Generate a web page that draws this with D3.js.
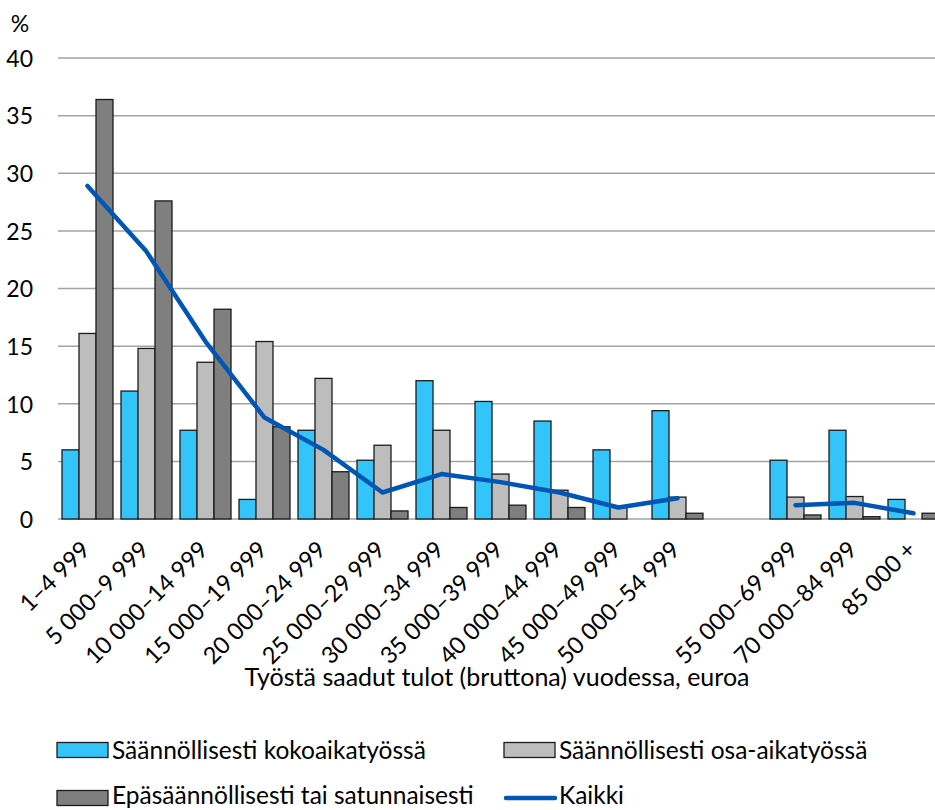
<!DOCTYPE html>
<html>
<head>
<meta charset="utf-8">
<script src="https://cdn.jsdelivr.net/npm/d3@7"></script>
<style>
  html, body { margin: 0; padding: 0; background: #fff; }
  svg { display: block; font-family: Lato, "Open Sans", sans-serif; }
</style>
</head>
<body>
<svg id="chart" width="935" height="810"></svg>
<script>
const categories = ["1–4 999", "5 000–9 999", "10 000–14 999", "15 000–19 999", "20 000–24 999",
  "25 000–29 999", "30 000–34 999", "35 000–39 999", "40 000–44 999", "45 000–49 999",
  "50 000–54 999", "", "55 000–69 999", "70 000–84 999", "85 000 +"];
const fullTime  = [6.0, 11.1, 7.7, 1.7, 7.7, 5.1, 12.0, 10.2, 8.5, 6.0, 9.4, null, 5.1, 7.7, 1.7];
const partTime  = [16.1, 14.8, 13.6, 15.4, 12.2, 6.4, 7.7, 3.9, 2.5, 1.1, 1.9, null, 1.9, 1.95, 0];
const irregular = [36.4, 27.6, 18.2, 8.0, 4.1, 0.7, 1.0, 1.2, 1.0, 0, 0.5, null, 0.35, 0.2, 0.5];
const allWorkers = [28.9, 23.2, 15.4, 8.8, 6.0, 2.3, 3.9, 3.2, 2.3, 1.0, 1.8, null, 1.2, 1.4, 0.5];
const yTicks = [0, 5, 10, 15, 20, 25, 30, 35, 40];
const seriesNames = ["Säännöllisesti kokoaikatyössä", "Säännöllisesti osa-aikatyössä",
  "Epäsäännöllisesti tai satunnaisesti", "Kaikki"];
const barSeries = [fullTime, partTime, irregular];
const colors = ["#33c4fa", "#bdbdbd", "#7f7f7f", "#0056b4"];

const svg = d3.select("#chart");
const plotLeft = 58, plotRight = 943, plotTop = 58, plotBottom = 519;

const x = d3.scaleBand().domain(d3.range(categories.length)).range([plotLeft, plotRight])
  .paddingInner(0.1356).paddingOuter(0.0678);
const xs = d3.scaleBand().domain([0, 1, 2]).range([0, x.bandwidth()]);
const y = d3.scaleLinear().domain([0, 40]).range([plotBottom, plotTop]);

// gridlines
svg.append("g").selectAll("line").data(yTicks).join("line")
  .attr("x1", plotLeft).attr("x2", 935)
  .attr("y1", d => y(d)).attr("y2", d => y(d))
  .attr("stroke", "#a3a3a3").attr("stroke-width", 1.5);

// y-axis labels
const yAxis = d3.axisLeft(y).tickValues(yTicks).tickSize(0).tickPadding(0);
const yg = svg.append("g").attr("transform", `translate(33,0)`).call(yAxis);
yg.select(".domain").remove();
yg.selectAll("text").attr("font-size", 23).attr("font-family", "Lato").attr("fill", "#000").attr("dy", "0.36em");

svg.append("text").attr("x", 20).attr("y", 32).attr("text-anchor", "middle")
  .attr("font-size", 23).attr("fill", "#000").text("%");

// bars
barSeries.forEach((vals, si) => {
  svg.append("g").selectAll("rect")
    .data(vals.map((v, i) => ({ v, i })).filter(d => d.v !== null && d.v > 0))
    .join("rect")
    .attr("x", d => x(d.i) + xs(si))
    .attr("y", d => y(d.v))
    .attr("width", xs.bandwidth())
    .attr("height", d => y(0) - y(d.v))
    .attr("fill", colors[si])
    .attr("stroke", "#1c1c1c").attr("stroke-width", 1.3);
});

// line
const line = d3.line()
  .defined(d => d.v !== null)
  .x(d => x(d.i) + x.bandwidth() / 2)
  .y(d => y(d.v));
svg.append("path")
  .datum(allWorkers.map((v, i) => ({ v, i })))
  .attr("d", line)
  .attr("fill", "none").attr("stroke", colors[3]).attr("stroke-width", 4.5)
  .attr("stroke-linecap", "round").attr("stroke-linejoin", "round");

// x-axis labels
const xAxis = d3.axisBottom(x).tickFormat(i => categories[i]).tickSize(0).tickPadding(0);
const xg = svg.append("g").attr("transform", `translate(0,${plotBottom})`).call(xAxis);
xg.select(".domain").remove();
xg.selectAll(".tick text")
  .attr("font-size", 23.5).attr("font-family", "Lato").attr("fill", "#000")
  .attr("text-anchor", "end").attr("dy", 0).attr("y", 0)
  .attr("transform", "translate(4,32) rotate(-45)");

// axis title
svg.append("text").attr("x", 497).attr("y", 686).attr("text-anchor", "middle")
  .attr("font-size", 25).attr("fill", "#000")
  .text("Työstä saadut tulot (bruttona) vuodessa, euroa");

// legend
const legendItems = [
  { name: seriesNames[0], x: 57, y: 750, ty: 759, type: "rect", c: colors[0] },
  { name: seriesNames[1], x: 504, y: 750, ty: 759, type: "rect", c: colors[1] },
  { name: seriesNames[2], x: 57, y: 798, ty: 804, type: "rect", c: colors[2] },
  { name: seriesNames[3], x: 504, y: 798, ty: 804, type: "line", c: colors[3] }
];
const lg = svg.append("g").selectAll("g").data(legendItems).join("g")
  .attr("transform", d => `translate(${d.x},0)`);
lg.filter(d => d.type === "rect").append("rect")
  .attr("x", 0).attr("y", d => d.y - 7.5).attr("width", 51).attr("height", 15)
  .attr("fill", d => d.c).attr("stroke", "#1c1c1c").attr("stroke-width", 1.3);
lg.filter(d => d.type === "line").append("line")
  .attr("x1", 2).attr("x2", 51).attr("y1", d => d.y).attr("y2", d => d.y)
  .attr("stroke", d => d.c).attr("stroke-width", 4.5).attr("stroke-linecap", "round");
lg.append("text").attr("x", 55).attr("y", d => d.ty)
  .attr("font-size", 24.5).attr("fill", "#000").text(d => d.name);
</script>
</body>
</html>
